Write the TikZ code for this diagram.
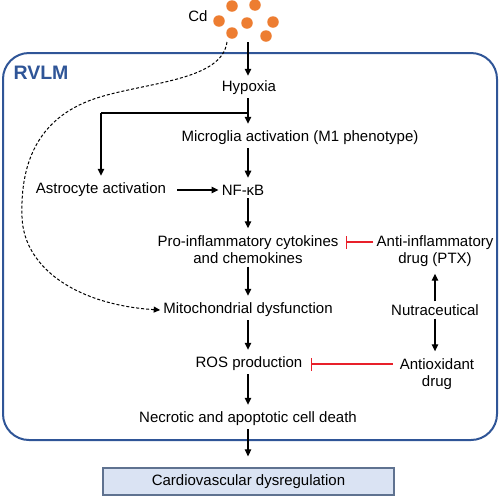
\documentclass[tikz,border=0pt]{standalone}
\usepackage{fontspec}
\setmainfont{Liberation Sans}
\usetikzlibrary{arrows.meta}
\definecolor{rvblue}{HTML}{2F5597}
\definecolor{cdorange}{HTML}{ED7D31}
\definecolor{inhred}{HTML}{E8202A}
\definecolor{boxfill}{HTML}{DAE3F3}
\definecolor{boxdraw}{HTML}{5F7290}
\tikzset{
  lbl/.style={font=\fontsize{15}{17}\selectfont, inner sep=3pt, align=center},
  arr/.style={line width=1.2pt, -{Triangle[length=7pt,width=6.5pt]}, shorten >=4pt},
  inhib/.style={line width=1.3pt, draw=inhred, -{Bar[width=13pt]}},
  dot/.style={circle, fill=cdorange, inner sep=0pt, minimum size=11.5pt},
}
\begin{document}
\begin{tikzpicture}[x=1pt,y=-1pt]
\useasboundingbox (0,0) rectangle (500,496);
% RVLM box
\draw[rvblue, line width=2pt, rounded corners=26pt] (3,53) rectangle (497,440);
\node[font=\fontsize{19.5}{22}\selectfont\bfseries, text=rvblue, inner sep=0pt] (rvlm) at (41,73) {RVLM};
% Cd
\node[lbl, inner sep=0pt] (cd) at (198,16) {Cd};
\node[dot] (d1) at (232,6) {};
\node[dot] (d2) at (255,5) {};
\node[dot] (d3) at (219,21) {};
\node[dot] (d4) at (247,23) {};
\node[dot] (d5) at (273,22) {};
\node[dot] (d6) at (232,33) {};
\node[dot] (d7) at (266,36) {};
\coordinate (cdtip) at (248,42);
\coordinate (cddash) at (227,42);
% nodes
\node[lbl] (hyp) at (249,88) {Hypoxia};
\node[lbl] (mic) at (300,138) {Microglia activation (M1 phenotype)};
\node[lbl] (nf) at (243,190) {NF-κB};
\node[lbl] (ast) at (101,190) {Astrocyte activation};
\node[lbl] (pro) at (248,249.5) {Pro-inflammatory cytokines\\and chemokines};
\node[lbl] (anti) at (435,251) {Anti-inflammatory\\drug (PTX)};
\node[lbl] (mito) at (248,310) {Mitochondrial dysfunction};
\node[lbl] (nutra) at (435,310) {Nutraceutical};
\node[lbl] (ros) at (249,364) {ROS production};
\node[lbl] (antiox) at (437,374) {Antioxidant\\drug};
\node[lbl] (nec) at (248,419) {Necrotic and apoptotic cell death};
\node[lbl, draw=boxdraw, line width=1.3pt, fill=boxfill, minimum width=291pt, minimum height=27pt, inner sep=0pt] (cardio) at (248.5,481.5) {Cardiovascular dysregulation};
\coordinate (br) at (248,113);
% arrows
\draw[arr, shorten >=2pt] (cdtip) -- (hyp.north -| cdtip);
\draw[arr] (hyp.south -| br) -- (mic.north -| br);
\draw[line width=1.2pt] (br) -- (br -| ast);
\draw[arr] (br -| ast) -- (ast.north);
\draw[arr] (mic.south -| br) -- (nf.north -| br);
\draw[arr, shorten <=8pt, shorten >=0pt] (ast.east) -- (nf.west);
\draw[arr] (nf.south -| br) -- (pro.north -| br);
\draw[arr] (pro.south -| br) -- (mito.north -| br);
\draw[arr] (mito.south -| br) -- (ros.north -| br);
\draw[arr] (ros.south -| br) -- (nec.north -| br);
\draw[arr, shorten >=11pt] (nec.south -| br) -- (cardio.north -| br);
\draw[arr] (nutra.north) -- (anti.south -| nutra);
\draw[arr] (nutra.south) -- (antiox.north -| nutra);
\draw[inhib, shorten >=4pt] ([yshift=9pt]anti.west) -- ([yshift=9pt]anti.west -| pro.east);
\draw[inhib, shorten <=4pt, shorten >=5pt] (ros -| antiox.west) -- (ros.east);
% dashed curve
\draw[line width=1pt, dash pattern=on 3pt off 2pt, -{Triangle[length=6.5pt,width=6pt]}]
  (cddash) .. controls (222,80) and (150,82) .. (100,97)
  .. controls (40,115) and (20,160) .. (22,217)
  .. controls (24,270) and (80,305) .. (mito.west);
\end{tikzpicture}
\end{document}
